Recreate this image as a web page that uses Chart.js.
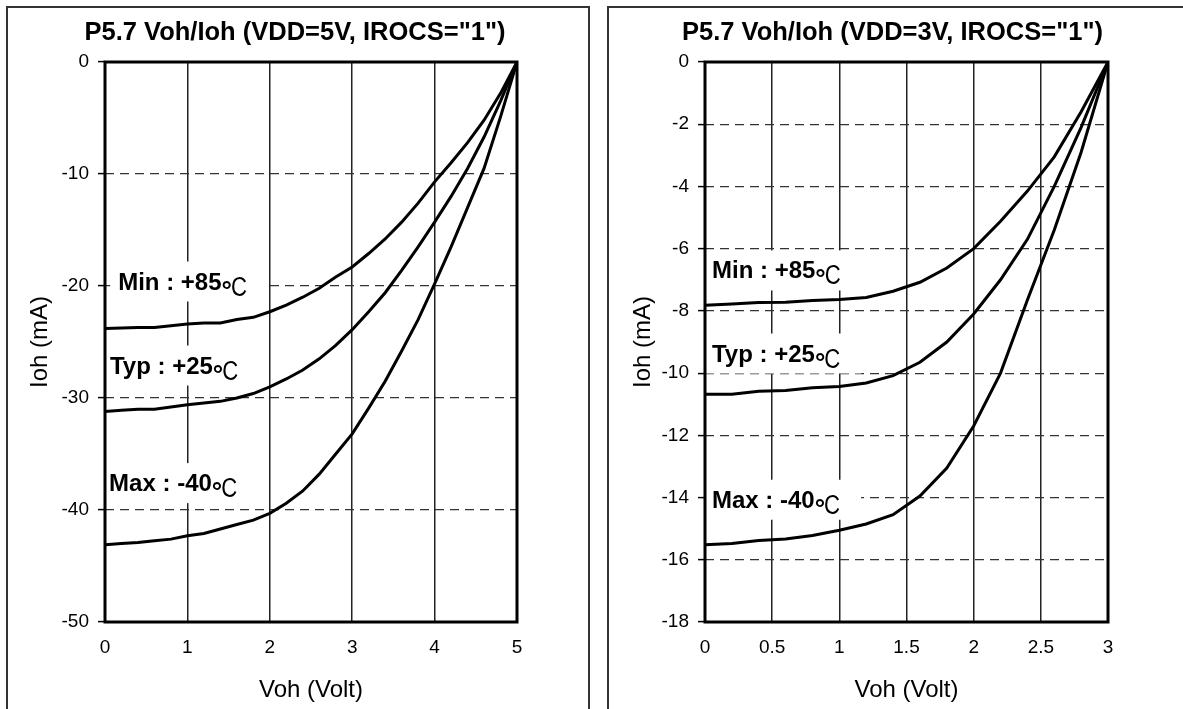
<!DOCTYPE html>
<html>
<head>
<meta charset="utf-8">
<script src="https://cdn.jsdelivr.net/npm/chart.js@4"></script>
<style>
   html, body { margin: 0; padding: 0; background: #fff; overflow: hidden; }
   body { width: 1183px; height: 709px; position: relative; }
   .panel { position: absolute; top: 6px; height: 760px; border: 2px solid #333; box-sizing: border-box; }
   #p1 { left: 6px; width: 584px; }
   #p2 { left: 607px; width: 620px; }
   canvas { position: absolute; left: 0; top: 0; }
</style>
</head>
<body>
<div class="panel" id="p1"><canvas id="c1" width="574" height="701"></canvas></div>
<div class="panel" id="p2"><canvas id="c2" width="567" height="701"></canvas></div>
<script>
// VDD = 5V
const voltsLeft = [0, 0.2, 0.4, 0.6, 0.8, 1.0, 1.2, 1.4, 1.6, 1.8, 2.0, 2.2, 2.4, 2.6, 2.8, 3.0, 3.2, 3.4, 3.6, 3.8, 4.0, 4.2, 4.4, 4.6, 4.8, 5.0];
const minLeft = [-23.8, -23.75, -23.7, -23.7, -23.55, -23.4, -23.3, -23.3, -23.0, -22.8, -22.3, -21.7, -21.0, -20.2, -19.2, -18.3, -17.1, -15.8, -14.3, -12.6, -10.7, -9.0, -7.2, -5.2, -2.8, 0];
const typLeft = [-31.2, -31.1, -31.0, -31.0, -30.8, -30.6, -30.45, -30.3, -30.0, -29.6, -29.0, -28.3, -27.5, -26.5, -25.3, -23.9, -22.3, -20.6, -18.6, -16.5, -14.3, -12.0, -9.5, -6.7, -3.5, 0];
const maxLeft = [-43.1, -43.0, -42.9, -42.75, -42.6, -42.3, -42.1, -41.7, -41.3, -40.9, -40.3, -39.4, -38.3, -36.8, -35.0, -33.2, -30.9, -28.5, -25.8, -23.0, -19.8, -16.5, -13.0, -9.5, -4.9, 0];

// VDD = 3V
const voltsRight = [0, 0.2, 0.4, 0.6, 0.8, 1.0, 1.2, 1.4, 1.6, 1.8, 2.0, 2.2, 2.4, 2.6, 2.8, 3.0];
const minRight = [-7.82, -7.78, -7.73, -7.72, -7.67, -7.63, -7.57, -7.37, -7.08, -6.62, -6.0, -5.12, -4.15, -3.05, -1.6, 0];
const typRight = [-10.68, -10.68, -10.58, -10.56, -10.47, -10.43, -10.32, -10.08, -9.65, -9.0, -8.1, -7.0, -5.7, -4.0, -2.1, 0];
const maxRight = [-15.52, -15.48, -15.38, -15.33, -15.22, -15.05, -14.85, -14.55, -13.95, -13.05, -11.7, -10.0, -7.65, -5.4, -2.9, 0];

// tick labels
const xTicksLeft = [0, 1, 2, 3, 4, 5];
const yTicksLeft = [-50, -40, -30, -20, -10, 0];
const xTicksRight = [0, 0.5, 1, 1.5, 2, 2.5, 3];
const yTicksRight = [-18, -16, -14, -12, -10, -8, -6, -4, -2, 0];

// curve captions (text, anchor in data units)
const captionText = ["Min : +85", "Typ : +25", "Max : -40"];
const captionLeftX = [0.16, 0.06, 0.05];
const captionLeftY = [-19.6, -27.1, -37.6];
const captionRightX = [0.052, 0.052, 0.052];
const captionRightY = [-6.7, -9.37, -14.07];

const FONT = "Arial, 'Liberation Sans', sans-serif";

// white boxed captions under the curves and a heavy frame round the plot
const framePlugin = {
   id: "frame",
   beforeDatasetsDraw(chart, args, opts) {
      const { ctx, scales: { x, y } } = chart;
      ctx.save();
      ctx.textAlign = "left";
      ctx.textBaseline = "alphabetic";
      opts.captions.forEach(c => {
         const px = x.getPixelForValue(c.x);
         const py = y.getPixelForValue(c.y);
         ctx.font = `bold 24px ${FONT}`;
         const w1 = ctx.measureText(c.text).width;
         ctx.font = `bold 26px ${FONT}`;
         const wd = ctx.measureText("°").width;
         ctx.font = `27px ${FONT}`;
         const wc = ctx.measureText("C").width * 0.82;
         ctx.fillStyle = "#fff";
         ctx.fillRect(px - 8, py - 20, w1 + wd + wc + 28, 40);
         ctx.fillStyle = "#000";
         const base = py + 8;
         ctx.font = `bold 24px ${FONT}`;
         ctx.fillText(c.text, px, base);
         ctx.font = `bold 26px ${FONT}`;
         ctx.fillText("°", px + w1, base + 9);
         ctx.font = `27px ${FONT}`;
         ctx.save();
         ctx.translate(px + w1 + wd - 1, base + 6);
         ctx.scale(0.82, 1);
         ctx.fillText("C", 0, 0);
         ctx.restore();
      });
      ctx.restore();
   },
   afterDatasetsDraw(chart) {
      const { ctx, chartArea: a } = chart;
      ctx.save();
      ctx.lineWidth = 3;
      ctx.strokeStyle = "#000";
      ctx.strokeRect(a.left, a.top, a.right - a.left, a.bottom - a.top);
      ctx.restore();
   }
};

function makeChart(id, cfg) {
   const series = [cfg.min, cfg.typ, cfg.max].map(vals => ({
      data: cfg.volts.map((v, i) => ({ x: v, y: vals[i] })),
      borderColor: "#000",
      borderWidth: 3,
      pointRadius: 0,
      tension: 0,
      fill: false
   }));
   return new Chart(document.getElementById(id), {
      type: "line",
      data: { datasets: series },
      options: {
         responsive: false,
         animation: false,
         layout: { padding: 0 },
         plugins: {
            legend: { display: false },
            tooltip: { enabled: false },
            title: {
               display: true,
               text: cfg.title,
               color: "#000",
               font: { family: FONT, size: 25.5, weight: "bold" },
               padding: { top: 10, bottom: 13.4 }
            },
            frame: {
               captions: captionText.map((t, i) => ({ text: t, x: cfg.capX[i], y: cfg.capY[i] }))
            }
         },
         scales: {
            x: {
               type: "linear",
               min: cfg.xTicks[0],
               max: cfg.xTicks[cfg.xTicks.length - 1],
               afterBuildTicks: s => { s.ticks = cfg.xTicks.map(v => ({ value: v })); },
               afterFit: s => { s.height = 87; },
               grid: { color: "#222", lineWidth: 1.5, drawTicks: false },
               border: { display: false },
               ticks: {
                  color: "#000", padding: 14, maxRotation: 0,
                  font: { family: FONT, size: 19 },
                  callback: v => String(v)
               },
               title: {
                  display: true,
                  text: "Voh (Volt)",
                  color: "#000",
                  font: { family: FONT, size: 24 },
                  padding: { top: 0, bottom: 4.6 }
               }
            },
            y: {
               type: "linear",
               min: cfg.yTicks[0],
               max: cfg.yTicks[cfg.yTicks.length - 1],
               afterBuildTicks: s => { s.ticks = cfg.yTicks.map(v => ({ value: v })); },
               afterFit: s => { s.width = cfg.yWidth; },
               grid: { color: "#333", lineWidth: 1.2, tickLength: 7, tickColor: "#000", tickWidth: 1.5 },
               border: { display: false, dash: [9, 6] },
               ticks: {
                  color: "#000", padding: 9,
                  font: { family: FONT, size: 19 },
                  callback: v => String(v)
               },
               title: {
                  display: true,
                  text: "Ioh (mA)",
                  color: "#000",
                  font: { family: FONT, size: 24 },
                  padding: { top: cfg.yTitlePad, bottom: 0 }
               }
            },
            // empty right margin so the title centres on the whole panel
            margin: {
               type: "linear",
               position: "right",
               grid: { display: false, drawTicks: false },
               border: { display: false },
               ticks: { display: false },
               afterFit: s => { s.width = cfg.padRight; }
            }
         }
      },
      plugins: [framePlugin]
   });
}

makeChart("c1", {
   title: 'P5.7 Voh/Ioh (VDD=5V, IROCS="1")',
   volts: voltsLeft, min: minLeft, typ: typLeft, max: maxLeft,
   xTicks: xTicksLeft, yTicks: yTicksLeft,
   capX: captionLeftX, capY: captionLeftY,
   yWidth: 97, padRight: 65, yTitlePad: 17.6
});

makeChart("c2", {
   title: 'P5.7 Voh/Ioh (VDD=3V, IROCS="1")',
   volts: voltsRight, min: minRight, typ: typRight, max: maxRight,
   xTicks: xTicksRight, yTicks: yTicksRight,
   capX: captionRightX, capY: captionRightY,
   yWidth: 96, padRight: 68, yTitlePad: 19.6
});
</script>
</body>
</html>
